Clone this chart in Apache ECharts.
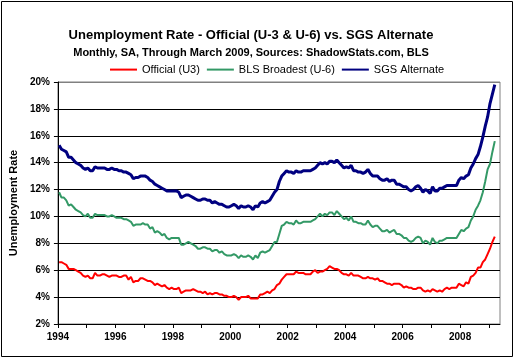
<!DOCTYPE html>
<html>
<head>
<meta charset="utf-8">
<script src="https://cdn.jsdelivr.net/npm/echarts@6/dist/echarts.min.js"></script>
<style>
html,body{margin:0;padding:0;background:#fff;}
#c{width:514px;height:358px;}
</style>
</head>
<body>
<div id="c"></div>
<script>
// Monthly data, Jan 1994 .. Mar 2009
const startYear = 1994;
const seriesNames = ['Official (U3)', 'BLS Broadest (U-6)', 'SGS Alternate'];
const u3 = [
  6.6,6.6,6.5,6.4,6.1,6.1,6.1,6.0,5.9,5.8,5.6,5.5,
  5.6,5.4,5.4,5.8,5.6,5.6,5.7,5.7,5.6,5.5,5.6,5.6,
  5.6,5.5,5.5,5.6,5.6,5.3,5.5,5.1,5.2,5.2,5.4,5.4,
  5.3,5.2,5.2,5.1,4.9,5.0,4.9,4.8,4.9,4.7,4.6,4.7,
  4.6,4.6,4.7,4.3,4.4,4.5,4.5,4.5,4.6,4.5,4.4,4.4,
  4.3,4.4,4.2,4.3,4.2,4.3,4.3,4.2,4.2,4.1,4.1,4.0,
  4.0,4.1,4.0,3.8,4.0,4.0,4.0,4.1,3.9,3.9,3.9,3.9,
  4.2,4.2,4.3,4.4,4.3,4.5,4.6,4.9,5.0,5.3,5.5,5.7,
  5.7,5.7,5.7,5.9,5.8,5.8,5.8,5.7,5.7,5.7,5.9,6.0,
  5.8,5.9,5.9,6.0,6.1,6.3,6.2,6.1,6.1,6.0,5.8,5.7,
  5.7,5.6,5.8,5.6,5.6,5.6,5.5,5.4,5.4,5.5,5.4,5.4,
  5.3,5.4,5.2,5.2,5.1,5.0,5.0,4.9,5.0,5.0,5.0,4.9,
  4.7,4.8,4.7,4.7,4.6,4.6,4.7,4.7,4.5,4.4,4.5,4.4,
  4.6,4.5,4.4,4.5,4.4,4.6,4.7,4.6,4.7,4.7,4.7,5.0,
  4.9,4.8,5.1,5.0,5.5,5.6,5.8,6.2,6.2,6.6,6.8,7.2,
  7.6,8.1,8.5
];
const u6 = [
  11.8,11.4,11.4,11.2,10.8,10.9,10.7,10.5,10.4,10.3,10.1,10.0,
  10.2,9.9,9.9,10.2,10.1,10.1,10.1,10.1,10.0,10.0,10.1,10.0,
  9.9,9.9,9.9,9.8,9.8,9.7,9.6,9.3,9.4,9.4,9.4,9.5,
  9.4,9.4,9.1,9.2,8.8,8.9,8.8,8.6,8.7,8.4,8.3,8.4,
  8.4,8.4,8.4,7.9,7.9,8.0,8.1,8.0,7.9,7.8,7.6,7.6,
  7.7,7.7,7.6,7.6,7.4,7.5,7.5,7.3,7.4,7.2,7.1,7.1,
  7.1,7.2,7.1,6.9,7.1,7.0,7.0,7.1,7.0,6.8,7.1,6.9,
  7.3,7.4,7.3,7.4,7.5,7.8,8.1,8.1,8.7,9.3,9.4,9.6,
  9.5,9.5,9.4,9.7,9.5,9.5,9.6,9.6,9.6,9.6,9.7,9.8,
  10.0,10.2,10.0,10.2,10.1,10.3,10.3,10.1,10.4,10.2,10.0,9.8,
  9.9,9.7,10.0,9.6,9.6,9.5,9.5,9.4,9.4,9.7,9.4,9.2,
  9.3,9.3,9.1,8.9,8.9,9.0,8.8,8.9,9.0,8.7,8.7,8.6,
  8.4,8.4,8.2,8.1,8.2,8.4,8.5,8.4,8.0,8.2,8.1,7.9,
  8.4,8.1,8.0,8.2,8.2,8.3,8.4,8.4,8.4,8.4,8.4,8.7,
  9.0,8.9,9.1,9.2,9.7,10.0,10.5,10.8,11.2,11.8,12.6,13.5,
  13.9,14.8,15.6
];
const sgs = [
  15.3,15.0,14.9,14.8,14.4,14.4,14.2,14.0,13.9,13.8,13.6,13.5,
  13.6,13.4,13.4,13.7,13.6,13.6,13.6,13.6,13.5,13.5,13.6,13.5,
  13.5,13.4,13.4,13.3,13.3,13.2,13.1,12.8,12.9,12.9,13.0,13.0,
  13.0,12.9,12.7,12.6,12.4,12.3,12.2,12.1,12.0,11.9,11.9,11.9,
  11.9,11.9,11.8,11.4,11.5,11.6,11.6,11.5,11.4,11.3,11.2,11.2,
  11.3,11.3,11.2,11.2,11.0,11.1,11.0,10.9,10.9,10.8,10.7,10.7,
  10.8,10.9,10.8,10.6,10.8,10.7,10.7,10.8,10.7,10.5,10.8,10.7,
  11.0,11.1,11.0,11.1,11.2,11.5,11.8,12.0,12.6,13.0,13.2,13.4,
  13.3,13.3,13.2,13.4,13.3,13.3,13.4,13.4,13.4,13.4,13.5,13.6,
  13.8,14.0,13.9,14.0,13.9,14.1,14.1,14.0,14.2,14.0,13.8,13.6,
  13.7,13.6,13.8,13.4,13.4,13.3,13.3,13.2,13.3,13.5,13.2,13.0,
  13.0,13.0,12.8,12.7,12.7,12.8,12.6,12.7,12.7,12.4,12.4,12.3,
  12.2,12.2,12.0,11.9,12.0,12.2,12.3,12.1,11.8,12.0,11.9,11.7,
  12.2,11.9,11.9,12.1,12.1,12.2,12.3,12.3,12.3,12.3,12.3,12.7,
  12.9,12.8,13.0,13.1,13.6,13.9,14.3,14.6,15.2,15.9,16.7,17.4,
  18.4,19.1,19.8
];
const xTickYears = [1994,1995,1996,1997,1998,1999,2000,2001,2002,2003,2004,2005,2006,2007,2008,2009];
const xLabelYears = [1994,1996,1998,2000,2002,2004,2006,2008];

function toPoints(arr) {
  return arr.map((v, i) => [startYear + (i + 0.5) / 12, v]);
}

const chart = echarts.init(document.getElementById('c'), null, {renderer: 'canvas'});
const FONT = 'Liberation Sans, Arial, sans-serif';
chart.setOption({
  animation: false,
  backgroundColor: '#ffffff',
  title: [
    {text: 'Unemployment Rate - Official (U-3 & U-6) vs. SGS Alternate', left: 246, top: 24, textAlign: 'center',
     textStyle: {fontFamily: FONT, fontSize: 13, fontWeight: 'bold', color: '#000'}},
    {text: 'Monthly, SA, Through March 2009, Sources: ShadowStats.com, BLS', left: 246, top: 42, textAlign: 'center',
     textStyle: {fontFamily: FONT, fontSize: 11, fontWeight: 'bold', color: '#000'}}
  ],
  legend: {
    left: 104, top: 59, itemWidth: 27, itemHeight: 14, itemGap: 6,
    itemStyle: {opacity: 0},
    textStyle: {fontFamily: FONT, fontSize: 11, color: '#000'},
    data: seriesNames
  },
  grid: {left: 53, top: 82, right: 14, bottom: 34, show: true, borderColor: '#808080', borderWidth: 1},
  xAxis: {
    type: 'value', min: 1994, max: 2009.39, interval: 1,
    axisLine: {lineStyle: {color: '#000', width: 1}},
    axisTick: {show: true, length: 4, lineStyle: {color: '#000'}, customValues: xTickYears},
    axisLabel: {fontFamily: FONT, fontSize: 10, fontWeight: 'bold', color: '#000', margin: 8,
      customValues: xLabelYears, formatter: v => String(v)},
    splitLine: {show: false}
  },
  yAxis: {
    type: 'value', min: 2, max: 20, interval: 2,
    name: 'Unemployment Rate', nameLocation: 'middle', nameGap: 35, nameRotate: 90,
    nameTextStyle: {fontFamily: FONT, fontSize: 11, fontWeight: 'bold', color: '#000'},
    axisLine: {show: true, lineStyle: {color: '#000', width: 1}},
    axisTick: {show: true, length: 4, lineStyle: {color: '#000'}},
    axisLabel: {fontFamily: FONT, fontSize: 10, fontWeight: 'bold', color: '#000', margin: 8, formatter: '{value}%'},
    splitLine: {show: true, lineStyle: {color: ['#000','#000','#000','#000','#000','#000','#000','#000','#000','#808080'], width: 1}}
  },
  series: [
    {name: seriesNames[0], type: 'line', data: toPoints(u3), symbol: 'none', color: '#ff0000', lineStyle: {width: 2, color: '#ff0000'}},
    {name: seriesNames[1], type: 'line', data: toPoints(u6), symbol: 'none', color: '#339966', lineStyle: {width: 2, color: '#339966'}},
    {name: seriesNames[2], type: 'line', data: toPoints(sgs), symbol: 'none', color: '#000080', lineStyle: {width: 3, color: '#000080'}}
  ],
  graphic: [{type: 'rect', shape: {x: 1.5, y: 1.5, width: 511, height: 355}, style: {fill: null, stroke: '#000', lineWidth: 1}, silent: true}]
});
</script>
</body>
</html>
